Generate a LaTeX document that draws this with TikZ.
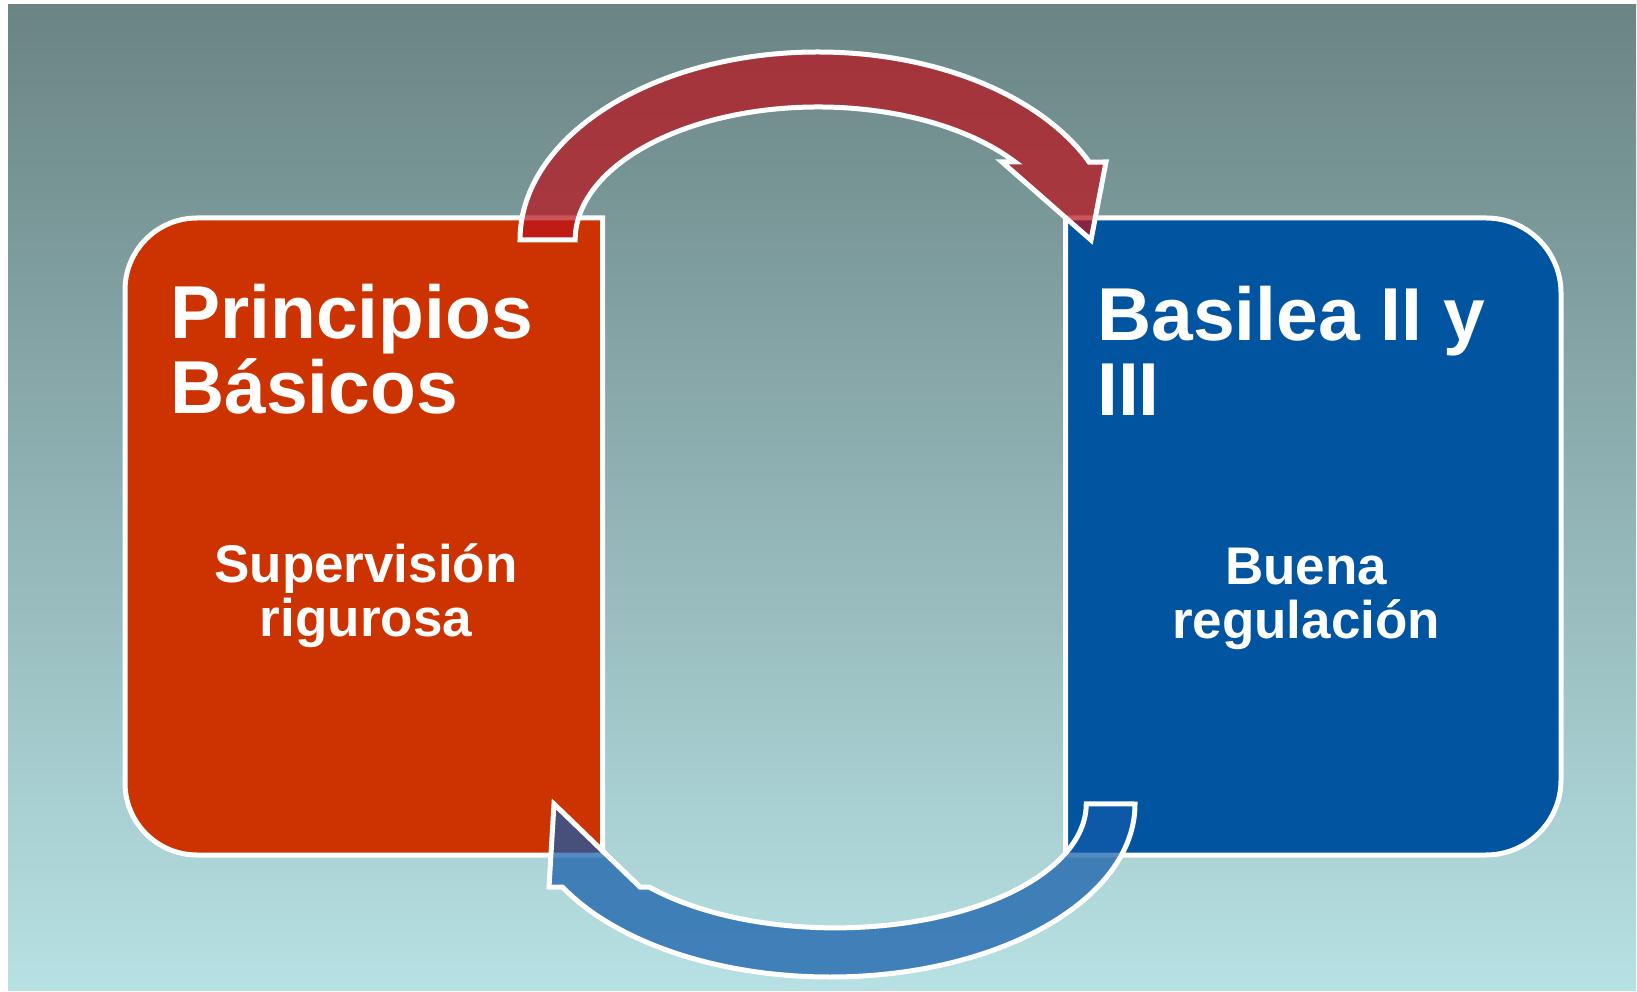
\documentclass[tikz,border=0pt]{standalone}
\usepackage{fontspec}
\setmainfont{Liberation Sans}
\definecolor{bgtop}{RGB}{106,132,132}
\definecolor{bgbottom}{RGB}{183,225,228}
\definecolor{boxred}{RGB}{204,51,0}
\definecolor{boxblue}{RGB}{0,84,160}
\definecolor{arrowred}{RGB}{185,20,30}
\definecolor{arrowblue}{RGB}{20,92,170}
\begin{document}
\begin{tikzpicture}[x=1pt,y=1pt,
    box line/.style={draw=white,line width=5pt},
    arrow body/.style={draw=white,line width=5pt,fill opacity=0.72},
    head text/.style={text=white,font=\fontsize{75}{75}\selectfont\bfseries,align=left,inner sep=0pt},
    sub text/.style={text=white,font=\fontsize{53}{54}\selectfont\bfseries,align=center,inner sep=0pt}]
    \useasboundingbox (0,0) rectangle (1637,991);
    \shade[top color=bgtop,bottom color=bgbottom] (8,1) rectangle (1636,986);
    % the two boxes
    \draw[box line,fill=boxred] (602.5,136) -- (602.5,773) -- (197,773)
        arc[start angle=90,end angle=180,radius=72] -- (125,208)
        arc[start angle=180,end angle=270,radius=72] -- cycle;
    \draw[box line,fill=boxblue] (1065.5,136) -- (1065.5,773) -- (1486,773)
        arc[start angle=90,end angle=0,radius=75] -- (1561,211)
        arc[start angle=0,end angle=-90,radius=75] -- cycle;
    \node[head text,anchor=base west] (principios) at (170,577) {Principios\\B\'asicos};
    \node[head text,anchor=base west] (basilea) at (1097,575) {Basilea II y\\III};
    \node[sub text,anchor=base] (supervision) at (366,354) {Supervisi\'on\\rigurosa};
    \node[sub text,anchor=base] (regulacion) at (1306,352) {Buena\\regulaci\'on};
    % curved arrows
    \draw[arrow body,fill=arrowred] (520,751)
        arc[start angle=180,end angle=24.5,x radius=298,y radius=188]
        -- (1106,829) -- (1091,751) -- (1002,829) -- (1015,829)
        arc[start angle=35.9,end angle=180,x radius=243,y radius=133] -- cycle;
    \draw[arrow body,fill=arrowblue] (1135,187)
        arc[start angle=0,end angle=-151.3,x radius=305,y radius=173]
        -- (549,104) -- (554,187) -- (640,104) -- (649,104)
        arc[start angle=-137.9,end angle=0,x radius=251,y radius=124] -- cycle;
\end{tikzpicture}
\end{document}
